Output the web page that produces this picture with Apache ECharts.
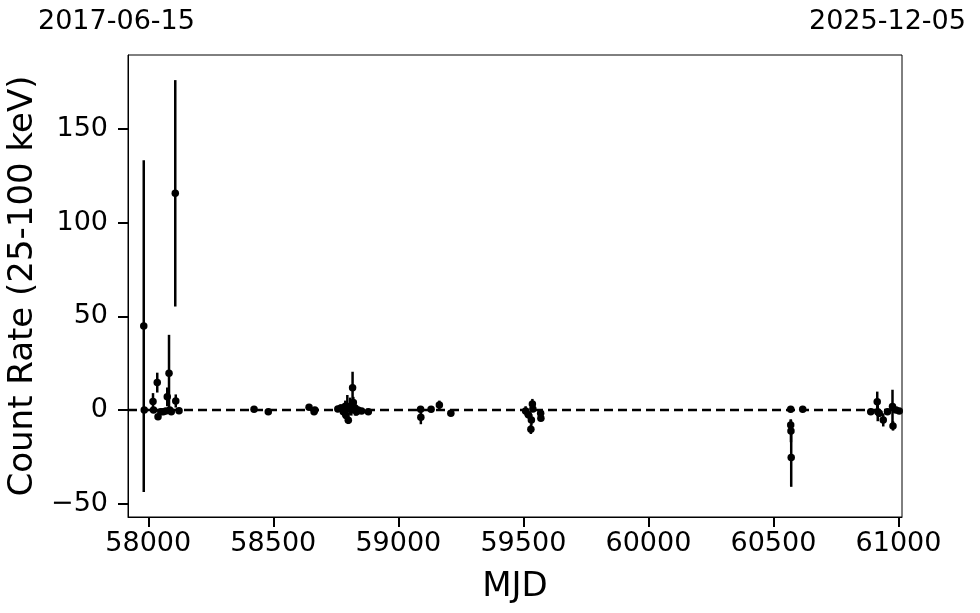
<!DOCTYPE html>
<html>
<head>
<meta charset="utf-8">
<script src="https://cdn.jsdelivr.net/npm/echarts@6.0.0/dist/echarts.min.js"></script>
<style>html,body{margin:0;padding:0;background:#fff}#c{width:980px;height:613px}</style>
</head>
<body>
<div id="c"></div>
<script>
const mjd  = [57982,57984,58019,58021,58036,58039,58050,58060,58070,58076,58083,58086,58092,58108,58110,58123,
              58423,58480,58643,58663,58666,58758,58770,58780,58788,58791,58796,58800,58807,58812,58817,58820,58827,58833,58839,58853,58880,
              59089,59090,59131,59164,59210,
              59509,59520,59530,59532,59536,59538,59569,59570,
              60569,60569,60570,60571,60617,
              60889,60915,60917,60923,60939,60956,60976,60978,60990,61003];
const rate = [44.8,0,4.5,0,14.6,-3.6,-1,-1,-0.5,7,19.6,0,-1,115.6,4.8,-0.4,
              0.4,-0.9,1.4,-0.9,0,0.5,1,-1,2,-3,1,-5.5,2,0,11.9,4,1,-1,0,-0.5,-1,
              0.4,-3.9,0.4,2.7,-1.8,
              -0.5,-2.5,-10.3,-5.3,3.2,0.5,-1.8,-4.4,
              0.4,-8.0,-11.2,-25.3,0.4,
              -0.9,4.4,-1,-1.8,-5.3,-0.9,1.8,-8.5,0,-0.5];
const err  = [88.5,1,4.5,1,5.3,1.5,1,1,1,5,20.5,1.5,1,60.4,3.5,1,
              1,1,1,1.2,1,1.5,2,2.5,3,3,7,2,4.6,3,8.5,3,4,2,1.5,1.5,1,
              1.2,3.7,1,2.3,1,
              2.5,2,2.5,3,2.7,1.5,1.5,1.5,
              1.5,3,6,15.7,1,
              1,5.4,5,2,3.5,1,9,2.5,1,1];
const xTicks = [58000,58500,59000,59500,60000,60500,61000];
const yTicks = [-50,0,50,100,150];
const topLabels = ['2017-06-15','2025-12-05'];
const xRange = [57919,61014];
const yRange = [-57.1,189.4];

const pts = mjd.map((m,i)=>[m, rate[i]]);
const bars = mjd.map((m,i)=>[m, rate[i]-err[i], rate[i]+err[i]]);
const FONT = 'DejaVu Sans';
const chart = echarts.init(document.getElementById('c'), null, {renderer:'canvas'});
chart.setOption({
  animation:false,
  backgroundColor:'#fff',
  grid:{left:128,right:78,top:55,bottom:96,containLabel:false,outerBoundsMode:'none',
    show:true,borderColor:'#000',borderWidth:1,backgroundColor:'transparent'},
  xAxis:{type:'value',min:xRange[0],max:xRange[1],
    name:'MJD',nameLocation:'middle',nameGap:53,
    nameTextStyle:{fontFamily:FONT,fontSize:34,color:'#000'},
    axisLine:{show:true,onZero:false,lineStyle:{color:'#000',width:1}},
    axisTick:{show:true,inside:false,length:10,lineStyle:{color:'#000',width:2},customValues:xTicks},
    axisLabel:{fontFamily:FONT,fontSize:27,color:'#000',margin:13,customValues:xTicks,
      formatter:v=>String(v)},
    splitLine:{show:false}},
  yAxis:{type:'value',min:yRange[0],max:yRange[1],
    name:'Count Rate (25-100 keV)',nameLocation:'middle',nameGap:85,nameRotate:90,
    nameTextStyle:{fontFamily:FONT,fontSize:34,color:'#000'},
    axisLine:{show:true,onZero:false,lineStyle:{color:'#000',width:1}},
    axisTick:{show:true,inside:false,length:10,lineStyle:{color:'#000',width:2},customValues:yTicks},
    axisLabel:{fontFamily:FONT,fontSize:27,color:'#000',margin:20,customValues:yTicks,
      formatter:v=> v<0 ? '\u2212'+(-v) : String(v)},
    splitLine:{show:false}},
  graphic:[
    {type:'text',left:38,top:8,style:{text:topLabels[0],font:'27px "DejaVu Sans"',fill:'#000'}},
    {type:'text',left:809,top:8,style:{text:topLabels[1],font:'27px "DejaVu Sans"',fill:'#000'}}
  ],
  series:[
    {type:'custom',clip:true,data:bars,encode:{x:0,y:[1,2]},z:2,
      renderItem:(params,api)=>{
        const x=api.value(0),lo=api.value(1),hi=api.value(2);
        const a=api.coord([x,hi]),b=api.coord([x,lo]);
        return {type:'line',shape:{x1:a[0],y1:a[1],x2:b[0],y2:b[1]},style:{stroke:'#000',lineWidth:2.5}};
      }},
    {type:'scatter',data:pts,symbolSize:7.5,itemStyle:{color:'#000',opacity:1},z:3,clip:true,
      markLine:{silent:true,symbol:['none','none'],label:{show:false},
        lineStyle:{color:'#000',type:[9,5],width:2.4},data:[{yAxis:0}]}}
  ]
});
</script>
</body>
</html>
